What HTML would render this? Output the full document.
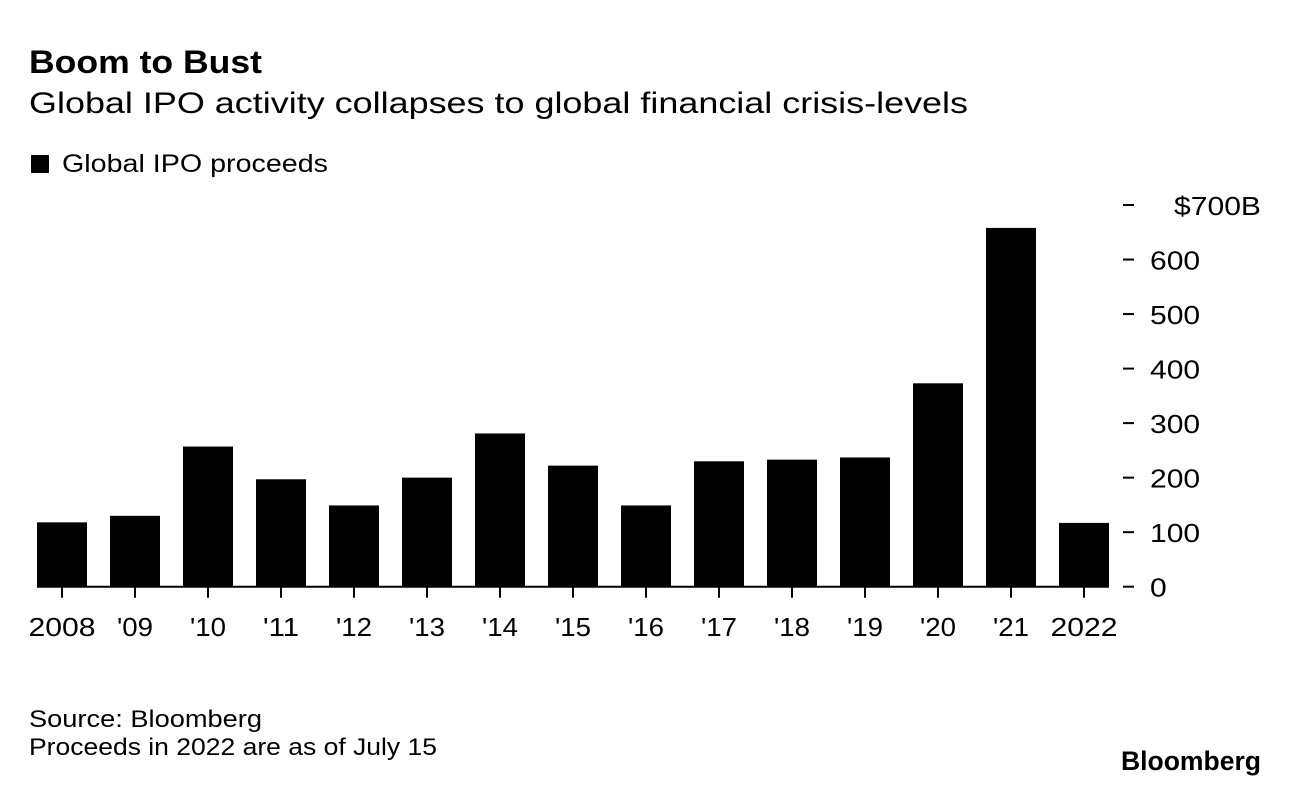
<!DOCTYPE html>
<html><head><meta charset="utf-8"><style>
body{margin:0;background:#fff}
.wrap{position:relative;width:1289px;height:786px;overflow:hidden}
text{font-family:"Liberation Sans",sans-serif;fill:#000}
</style></head><body>
<div class="wrap">
<svg id="chart" width="1289" height="786" style="position:absolute;left:0;top:0">
<text x="29" y="73" font-size="32" font-weight="bold" textLength="233" lengthAdjust="spacingAndGlyphs">Boom to Bust</text>
<text x="29" y="113" font-size="30" textLength="939" lengthAdjust="spacingAndGlyphs">Global IPO activity collapses to global financial crisis-levels</text>
<rect x="31" y="155" width="18" height="18" fill="#000"/>
<text x="62" y="172" font-size="25" textLength="266" lengthAdjust="spacingAndGlyphs">Global IPO proceeds</text>
<text x="29" y="727" font-size="24" textLength="233" lengthAdjust="spacingAndGlyphs">Source: Bloomberg</text>
<text x="29" y="755" font-size="24" textLength="408" lengthAdjust="spacingAndGlyphs">Proceeds in 2022 are as of July 15</text>
<text x="1121" y="770" font-size="27" font-weight="bold" textLength="140" lengthAdjust="spacingAndGlyphs">Bloomberg</text>
</svg>
</div>
<script>
const categories=["2008","'09","'10","'11","'12","'13","'14","'15","'16","'17","'18","'19","'20","'21","2022"];
const values=[118,130,257,197,149,200,281,222,149,230,233,237,373,658,117];
const yTicks=[0,100,200,300,400,500,600,700];
const yTickLabels=["0","100","200","300","400","500","600","$700B"];
const svg=document.getElementById('chart');
const NS='http://www.w3.org/2000/svg';
const y0=586.7,pxPer=(586.7-205)/700;
const yScale=v=>y0-v*pxPer;
const xCenter=i=>62+i*73;
const barW=50;
function mk(tag,attrs){const e=document.createElementNS(NS,tag);for(const k in attrs)e.setAttribute(k,attrs[k]);svg.appendChild(e);return e;}
values.forEach((v,i)=>{
  const r=mk('rect',{x:xCenter(i)-barW/2,y:yScale(v),width:barW,height:y0-yScale(v),fill:'#000'});
  
  
  const tk=mk('line',{x1:xCenter(i),x2:xCenter(i),y1:y0,y2:y0+11,stroke:'#000','stroke-width':2});
  
  
  const lab=categories[i];
  const w=lab.length===4?67:36;
  const t=mk('text',{x:xCenter(i),y:636,'text-anchor':'middle','font-size':26,textLength:w,lengthAdjust:'spacingAndGlyphs'});
  t.textContent=lab;
  
  
});
const base=mk('line',{x1:37,x2:1109,y1:y0,y2:y0,stroke:'#000','stroke-width':2});


yTicks.forEach((v,i)=>{
  const y=yScale(v);
  const d=mk('line',{x1:1123,x2:1134,y1:y,y2:y,stroke:'#000','stroke-width':2});
  
  
  const last=i===yTicks.length-1;
  const lab=yTickLabels[i];
  const w=last?87:lab.length*16.7;
  const t=mk('text',{x:last?1174:1150,y:y+10,'font-size':26,textLength:w,lengthAdjust:'spacingAndGlyphs'});
  t.textContent=lab;
  
  
});
</script>
</body></html>
